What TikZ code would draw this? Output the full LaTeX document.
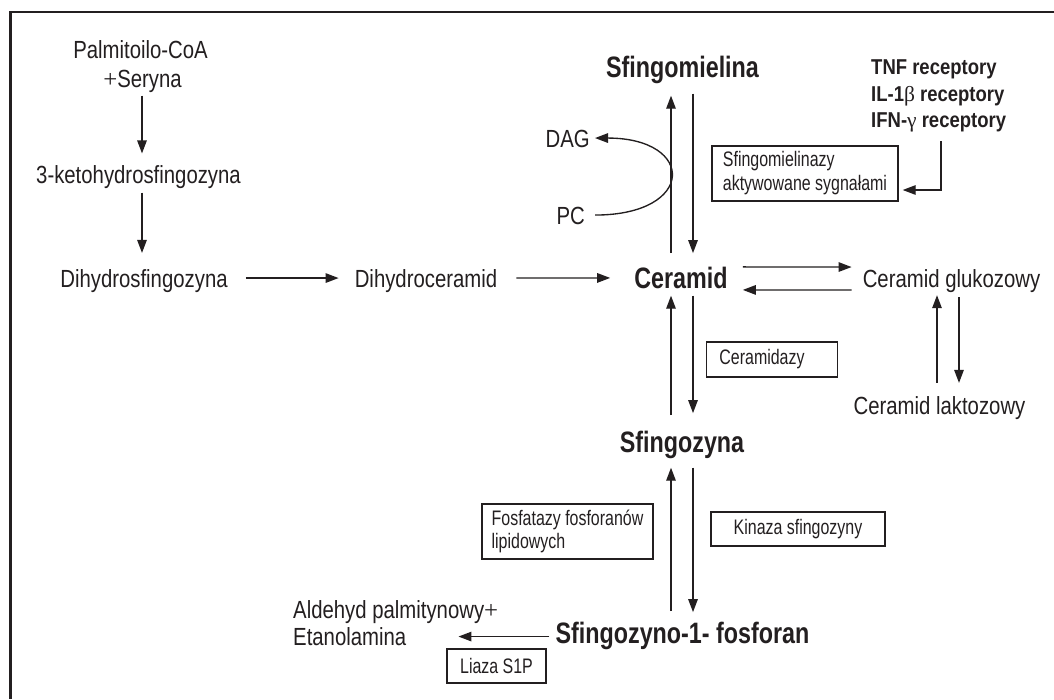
\documentclass[tikz,border=0pt]{standalone}
\usepackage{fontspec}
\setmainfont{Liberation Sans}[FakeStretch=0.82]
\newfontfamily\narrowf{Liberation Sans}[FakeStretch=0.79]
\newfontfamily\boxfont{Liberation Sans}[FakeStretch=0.76]
\newfontfamily\recf{Liberation Sans}[FakeStretch=0.86]
\newfontfamily\grk{Liberation Serif}
\usetikzlibrary{arrows.meta,calc}
\definecolor{lc}{RGB}{35,31,32}
\begin{document}
\begin{tikzpicture}[x=1pt,y=-1pt,
  txt/.style={font=\fontsize{24.8}{29}\selectfont, inner sep=0pt, anchor=base, text=lc, text height=17.9pt, text depth=0pt},
  big/.style={font=\narrowf\fontsize{29.5}{34}\selectfont\bfseries, inner sep=0pt, anchor=base, text=lc, text height=21.2pt, text depth=0pt},
  rec/.style={font=\recf\fontsize{21.5}{25}\selectfont\bfseries, inner sep=0pt, anchor=base west, text=lc, text height=15.5pt, text depth=0pt},
  box/.style={draw=lc, line width=1.4pt, font=\boxfont\fontsize{21}{24}\selectfont, text=lc, inner ysep=0pt, anchor=center},
  arr/.style={draw=lc, line width=1.35pt, -{Triangle[length=13pt,width=9.5pt]}}
]
\useasboundingbox (0,0) rectangle (1054,699);
\fill[white] (0,0) rectangle (1054,699);
\draw[lc, line width=2.7pt] (1054,12) -- (10.5,12) -- (10.5,699);

% nodes
\node[txt] (pal) at (140.5,58.5) {Palmitoilo-CoA};
\node[txt] (ser) at (142.5,87.5) {{\grk +}Seryna};
\node[txt] (keto) at (138.5,183.5) {3-ketohydrosfingozyna};
\node[txt] (dhs) at (144,287) {Dihydrosfingozyna};
\node[txt] (dhc) at (426,287) {Dihydroceramid};
\node[big] (cer) at (681,288.5) {Ceramid};
\node[txt] (glu) at (951.5,287) {Ceramid glukozowy};
\node[txt] (lak) at (939.5,414) {Ceramid laktozowy};
\node[big] (smi) at (682.5,77.5) {Sfingomielina};
\node[rec] (tnf) at (871,74.5) {TNF receptory};
\node[rec] (il) at (871,101.5) {IL-1{\grk\mdseries β} receptory};
\node[rec] (ifn) at (871,127.5) {IFN-{\grk\mdseries γ} receptory};
\node[txt, anchor=base east] (dag) at (590,147) {DAG};
\node[txt, anchor=base east] (pc) at (585,224) {PC};
\node[box, minimum height=55pt, minimum width=186pt, inner xsep=8pt, align=left] (sgm) at (805,173.5) {Sfingomielinazy\\aktywowane sygnałami};
\node[box, minimum height=35pt, minimum width=124pt, inner xsep=13pt, align=left] (cdz) at (772,359.5) {Ceramidazy\hspace*{20pt}};
\node[big] (sfz) at (682,452.5) {Sfingozyna};
\node[box, minimum height=55pt, minimum width=171pt, inner xsep=8pt, align=left, font=\boxfont\fontsize{21}{23}\selectfont] (fos) at (567.5,531.5) {Fosfatazy fosforanów\\lipidowych};
\node[box, minimum height=34pt, minimum width=174pt] (kin) at (798,529) {Kinaza sfingozyny};
\node[big] (s1p) at (682.5,643.5) {Sfingozyno-1- fosforan};
\node[txt, anchor=base west] (ald) at (293,618.5) {Aldehyd palmitynowy{\grk +}};
\node[txt, anchor=base west] (eta) at (293,645.5) {Etanolamina};
\node[box, minimum height=34pt, minimum width=99pt] (lia) at (496.5,666) {Liaza S1P};

% connectors
\draw[arr, shorten <=8pt, shorten >=12pt] ([xshift=-0.5pt]ser.south) -- ([xshift=3.5pt]keto.north);
\draw[arr, shorten <=9pt, shorten >=16pt] ([xshift=3.5pt]keto.south) -- ([xshift=-2pt]dhs.north);
\draw[arr, shorten <=18pt, shorten >=16pt] (dhs.east) -- (dhc.west);
\draw[arr, shorten <=19pt, shorten >=24pt] (dhc.east) -- (cer.west);
\draw[arr, shorten <=15pt, shorten >=11pt] ([yshift=11pt]cer.east) -- ([yshift=11pt]glu.west);
\draw[arr, shorten <=11pt, shorten >=15pt] ([yshift=-12pt]glu.west) -- ([yshift=-12pt]cer.east);
\draw[arr, shorten <=10pt, shorten >=13pt] ([xshift=7.5pt]glu.south) -- ([xshift=19.5pt]lak.north);
\draw[arr, shorten <=13pt, shorten >=8pt] ([xshift=-2.5pt]lak.north) -- ([xshift=-14.5pt]glu.south);
\draw[arr, shorten <=14pt, shorten >=18pt] ([xshift=-10pt]cer.north) -- ([xshift=-11.5pt]smi.south);
\draw[arr, shorten <=16pt, shorten >=14pt] ([xshift=10.5pt]smi.south) -- ([xshift=12pt]cer.north);
\draw[arr, shorten <=7pt, shorten >=18pt] ([xshift=12pt]cer.south) -- ([xshift=11pt]sfz.north);
\draw[arr, shorten <=16pt, shorten >=7pt] ([xshift=-11pt]sfz.north) -- ([xshift=-10pt]cer.south);
\draw[arr, shorten <=15pt, shorten >=10pt] ([xshift=11pt]sfz.south) -- ([xshift=10.5pt]s1p.north);
\draw[arr, shorten <=11pt, shorten >=15pt] ([xshift=-11.5pt]s1p.north) -- ([xshift=-11pt]sfz.south);
\draw[arr, shorten <=6pt, shorten >=52pt] (s1p.west |- eta.east) -- (eta.east);
\draw[arr, shorten <=13.5pt, shorten >=4pt] ([xshift=70pt]ifn.south west) |- ([yshift=-16.5pt]sgm.east);
\draw[arr, shorten <=10pt, shorten >=5pt] (pc.east) .. controls +(111,0) and +(106,0) .. (dag.east);
\end{tikzpicture}
\end{document}
